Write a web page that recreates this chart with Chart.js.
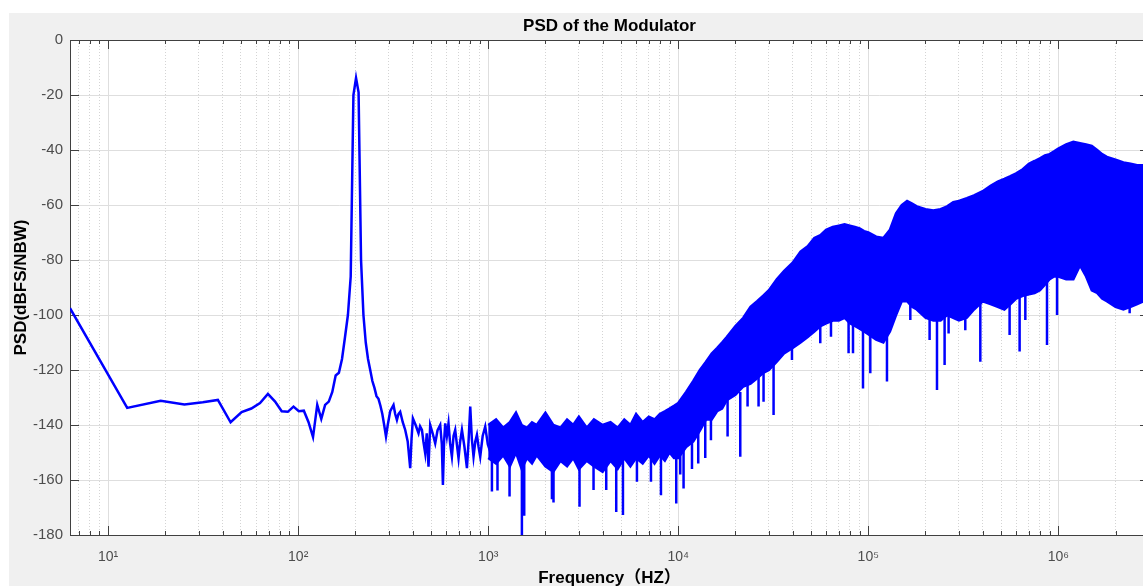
<!DOCTYPE html>
<html>
<head>
<meta charset="utf-8">
<title>PSD of the Modulator</title>
<script src="https://cdn.jsdelivr.net/npm/chart.js@4.4.1/dist/chart.umd.min.js"></script>
<style>
    html, body {
        margin: 0;
        padding: 0;
        width: 1143px;
        height: 586px;
        overflow: hidden;
        background: #ffffff;
    }
    #figure {
        position: absolute;
        left: 9px;
        top: 13px;
        width: 1160px;
        height: 573px;
        background: #f0f0f0;
    }
</style>
</head>
<body>
<div id="figure"><canvas id="psdChart"></canvas></div>
<script>
// Low frequency part of the trace (Hz / dBFS per NBW)
const lowFreq = [6.3, 12.6, 18.9, 25.2, 31.5, 37.8, 44.1, 50.4, 56.7, 63.0, 69.3, 75.6, 81.9, 88.2, 94.5,
    100.8, 107.1, 113.4, 119.7, 126.0, 132.3, 138.6, 144.9, 151.2, 157.5, 163.8, 170.1, 176.4, 182.7, 189.0,
    195.3, 201.6, 207.9, 214.2, 220.5, 226.8, 233.1, 239.4, 245.7, 252.0, 258.3, 264.6, 270.9, 277.2, 283.5,
    289.8, 296, 305, 317.5, 324, 330.8, 337, 344.2, 355, 365.9, 377, 388.6, 395, 401.5, 415, 429.8, 438,
    447.9, 456, 466.1, 475, 485.1, 495.2, 510, 526.2, 541, 559, 570, 577.6, 586, 593.9, 606, 618.1, 631,
    644.1, 657, 670.4, 684, 698, 712, 727.4, 750, 772.8, 788, 804.4, 820, 837, 855, 872.2, 890, 907.9, 935,
    964.4, 995, 1024.5, 1045, 1066.3];
const lowPsd = [-97.5, -133.8, -131.2, -132.5, -131.7, -130.9, -139, -135.3, -134, -132, -128.7, -131.5, -135, -135.2, -133.3,
    -135, -134.8, -139, -144.4, -132.7, -137.8, -132.7, -131.5, -128, -122, -121, -116, -108, -100, -86,
    -20, -13.8, -19, -80, -100, -110, -116, -120, -124, -126.5, -129.5, -130.5, -133, -136, -140,
    -144.2, -140, -135, -132.7, -136, -138.2, -136, -135.2, -139, -141.8, -146, -155.7, -145, -137.6, -140, -143, -140.5,
    -141.8, -146, -150.3, -143, -155.2, -140, -143, -146.7, -142, -140, -147, -161.8, -146, -139.4, -144, -139.4, -147,
    -151.5, -144, -141.8, -147, -152.1, -146, -141.8, -148, -155.7, -146, -133.3, -145, -151.5, -146, -143.6, -148, -151.5, -144,
    -140.6, -147, -149.7, -143, -141.8];

// Dense noise region: upper and lower edge of the band
const bandFreq = [1000, 1100, 1200, 1300, 1400, 1500, 1600, 1700, 1800, 2000, 2200, 2400, 2600, 2800, 3000,
    3300, 3600, 4000, 4400, 4800, 5200, 5600, 6000, 6500, 7000, 7500, 8000, 8500, 9000, 9500,
    10000, 11000, 12000, 13000, 14000, 15000, 16000, 17000, 18000, 20000, 22000, 24000, 26000, 28000, 30000,
    33000, 36000, 40000, 44000, 48000, 52000, 56000, 60000, 65000, 70000, 75000, 80000, 85000, 90000, 95000,
    1e5, 1.1e5, 1.2e5, 1.3e5, 1.4e5, 1.5e5, 1.6e5, 1.7e5, 1.8e5, 2e5, 2.2e5, 2.4e5, 2.6e5, 2.8e5, 3e5,
    3.3e5, 3.6e5, 4e5, 4.4e5, 4.8e5, 5.2e5, 5.6e5, 6e5, 6.5e5, 7e5, 7.5e5, 8e5, 8.5e5, 9e5, 9.5e5,
    1e6, 1.1e6, 1.2e6, 1.3e6, 1.4e6, 1.5e6, 1.6e6, 1.7e6, 1.8e6, 2e6, 2.2e6, 2.4e6, 2.6e6, 2.8e6, 3e6];
const bandTop = [-140, -138, -141, -139, -135.5, -140, -141, -139, -140, -135.5, -140, -141, -138, -140, -137,
    -141, -138, -140, -139, -141, -138, -140, -136, -139, -137, -138, -136, -135, -134, -133,
    -132, -128, -124, -120, -117, -114, -112, -110, -108, -104, -101, -97, -95, -93, -91,
    -87, -84, -81, -77, -75, -72, -71, -69, -68, -67.5, -67, -67.5, -68, -68.5, -69.5,
    -70, -71.5, -72, -69, -63, -60, -58.5, -59.5, -60.5, -61.5, -62, -61.5, -60.5, -59, -58.5,
    -57.5, -56.5, -55, -53, -51.5, -50.5, -49.5, -48.5, -47, -45, -44, -43, -42, -41.5, -40.5,
    -39.5, -38, -37, -37.5, -38, -38.5, -40, -41.5, -42.5, -43.5, -44.5, -45, -45.5, -45.5, -46];
const bandBottom = [-152, -154, -151, -155, -150, -156, -152, -154, -151, -155, -157, -153, -155, -152, -156,
    -153, -155, -157, -153, -156, -152, -155, -152, -154, -151, -154, -151, -153, -150, -152,
    -152, -148, -146, -142, -138, -138, -135, -134, -131, -129, -126, -125, -123, -121, -120,
    -117, -114, -112, -110, -108, -106, -104, -103, -102, -102, -101, -103, -104, -105, -106,
    -107, -109, -110, -106, -100, -95, -95, -97, -98, -101, -102, -102, -100, -101, -102,
    -101, -98, -95, -96, -97, -98, -96, -94, -93, -92.5, -92, -91, -89, -87, -86,
    -86, -87, -87, -82, -86, -91, -92, -94, -95, -97, -98, -97, -96, -95, -95];

// Single-bin dips below the band
const spikeFreq = [1046, 1119, 1295, 1504, 1547, 2164, 2206, 3023, 3583, 4179, 4717, 5117, 6062, 7184, 8109,
    9761, 10245, 10665, 11810, 12740, 13870, 14860, 18180, 21200, 23160, 26460, 28110, 31740, 39660, 55890,
    63630, 78760, 83090, 93790, 102450, 125410, 166400, 210200, 229900, 252100, 264600, 323900, 388600, 554100, 625600,
    670400, 871800, 984500, 2373000];
const spikeFrom = [-150, -150, -150, -148, -150, -152, -152, -152, -152, -152, -152, -152, -150, -150, -150,
    -150, -148, -146, -144, -142, -138, -136, -130, -128, -125, -122, -121, -118, -110, -102,
    -100, -101, -102, -104, -105, -107, -93, -100, -100, -100, -100, -100, -94, -95, -93,
    -92, -87, -84, -95];
const spikeTo = [-164.2, -163.8, -166, -180, -173, -167, -168.2, -169.7, -163.6, -163.6, -171.6, -172.7, -160.6, -160.6, -165.5,
    -168.5, -158, -163.1, -156, -154, -152, -145.5, -144.2, -151.5, -133.3, -133.3, -131.5, -136.4, -116.4, -110.3,
    -107.9, -113.9, -113.9, -126.7, -121.2, -124.2, -101.8, -109.1, -127.3, -118.2, -106.7, -105.5, -117, -107.3, -113.3,
    -101.8, -110.9, -100, -99.4];

// Axis ticks
const xTickValues = [10, 100, 1000, 10000, 100000, 1000000];
const xTickLabels = ['10\u00b9', '10\u00b2', '10\u00b3', '10\u2074', '10\u2075', '10\u2076'];
const xMin = 6.3;
const xMax = 3.0e6;
const yMin = -180;
const yMax = 0;
const yStep = 20;

const traceColor = '#0000ff';
const axisColor = '#404040';

function toPoints(xs, ys) {
    return xs.map((x, i) => ({ x: x, y: ys[i] }));
}

function isDecade(v) {
    const l = Math.log10(v);
    return Math.abs(l - Math.round(l)) < 1e-9;
}

const spikePoints = [];
spikeFreq.forEach((f, i) => {
    spikePoints.push({ x: f, y: spikeFrom[i] });
    spikePoints.push({ x: f, y: spikeTo[i] });
    spikePoints.push({ x: f, y: null });
});

// White plot area, box and inward tick marks like MATLAB axes
const axesBox = {
    id: 'axesBox',
    beforeDraw(chart) {
        const { ctx, chartArea: a } = chart;
        ctx.save();
        ctx.fillStyle = '#ffffff';
        ctx.fillRect(a.left, a.top, a.right - a.left, a.bottom - a.top);
        ctx.restore();
    },
    beforeDatasetsDraw(chart) {
        const { ctx, chartArea: a, scales } = chart;
        ctx.save();
        ctx.strokeStyle = axisColor;
        ctx.lineWidth = 1;
        ctx.beginPath();
        scales.x.ticks.forEach(t => {
            const px = Math.round(scales.x.getPixelForValue(t.value)) + 0.5;
            const len = isDecade(t.value) ? 9 : 4;
            ctx.moveTo(px, a.bottom);
            ctx.lineTo(px, a.bottom - len);
            ctx.moveTo(px, a.top);
            ctx.lineTo(px, a.top + len);
        });
        scales.y.ticks.forEach(t => {
            const py = Math.round(scales.y.getPixelForValue(t.value)) + 0.5;
            ctx.moveTo(a.left, py);
            ctx.lineTo(a.left + 9, py);
            ctx.moveTo(a.right, py);
            ctx.lineTo(a.right - 9, py);
        });
        ctx.stroke();
        ctx.strokeRect(Math.round(a.left) + 0.5, Math.round(a.top) + 0.5,
            Math.round(a.right - a.left), Math.round(a.bottom - a.top));
        ctx.restore();
    }
};

Chart.defaults.font.family = '"Liberation Sans", Arial, "DejaVu Sans", "Noto Sans CJK SC", sans-serif';

const lineStyle = {
    borderColor: traceColor,
    backgroundColor: traceColor,
    borderWidth: 2.5,
    pointRadius: 0,
    tension: 0,
    fill: false
};

const labelFont = { size: 17, weight: 'bold' };

new Chart(document.getElementById('psdChart').getContext('2d'), {
    type: 'line',
    data: {
        datasets: [
            Object.assign({ label: 'PSD', data: toPoints(lowFreq, lowPsd) }, lineStyle),
            Object.assign({ label: 'band top', data: toPoints(bandFreq, bandTop) }, lineStyle),
            Object.assign({ label: 'band bottom', data: toPoints(bandFreq, bandBottom) }, lineStyle, { fill: '-1' }),
            Object.assign({ label: 'dips', data: spikePoints, spanGaps: false }, lineStyle)
        ]
    },
    options: {
        responsive: true,
        maintainAspectRatio: false,
        animation: false,
        events: [],
        layout: {
            padding: { left: 0, right: 20, top: 0, bottom: 0 }
        },
        scales: {
            x: {
                type: 'logarithmic',
                min: xMin,
                max: xMax,
                afterBuildTicks: function(scale) {
                    const ticks = [];
                    [1, 10, 100, 1e3, 1e4, 1e5, 1e6].forEach(d => {
                        for (let m = 1; m <= 9; m++) {
                            const v = d * m;
                            if (v >= xMin && v <= xMax) ticks.push({ value: v });
                        }
                    });
                    scale.ticks = ticks;
                },
                afterFit: function(scale) {
                    scale.height = 51;
                },
                ticks: {
                    autoSkip: false,
                    maxRotation: 0,
                    padding: 14,
                    color: '#4d4d4d',
                    font: { size: 14 },
                    callback: function(value) {
                        const i = xTickValues.indexOf(value);
                        return i >= 0 ? xTickLabels[i] : '';
                    }
                },
                grid: {
                    drawTicks: false,
                    lineWidth: 1,
                    color: function(ctx) {
                        if (!ctx.tick) return '#dedede';
                        return isDecade(ctx.tick.value) ? '#dedede' : '#d4d4d4';
                    }
                },
                border: {
                    display: false,
                    dash: function(ctx) {
                        if (!ctx.tick || isDecade(ctx.tick.value)) return [];
                        return [1, 2];
                    }
                },
                title: {
                    display: true,
                    text: 'Frequency（HZ）',
                    color: '#000000',
                    font: labelFont,
                    padding: { top: 0, bottom: -3 }
                }
            },
            // top axis only carries the plot title, centred over the axes box
            xTop: {
                type: 'logarithmic',
                axis: 'x',
                position: 'top',
                min: xMin,
                max: xMax,
                afterFit: function(scale) {
                    scale.height = 27;
                },
                ticks: { display: false },
                grid: { display: false },
                border: { display: false },
                title: {
                    display: true,
                    text: 'PSD of the Modulator',
                    color: '#000000',
                    font: labelFont,
                    padding: { top: 3, bottom: 0 }
                }
            },
            y: {
                type: 'linear',
                min: yMin,
                max: yMax,
                afterFit: function(scale) {
                    scale.width = 61;
                },
                ticks: {
                    stepSize: yStep,
                    padding: 7,
                    color: '#4d4d4d',
                    font: { size: 15 }
                },
                grid: {
                    drawTicks: false,
                    color: '#dedede',
                    lineWidth: 1
                },
                border: { display: false },
                title: {
                    display: true,
                    text: 'PSD(dBFS/NBW)',
                    color: '#000000',
                    font: labelFont,
                    padding: { top: 2, bottom: 0 }
                }
            }
        },
        plugins: {
            legend: { display: false },
            tooltip: { enabled: false },
            title: { display: false }
        }
    },
    plugins: [axesBox]
});
</script>
</body>
</html>
